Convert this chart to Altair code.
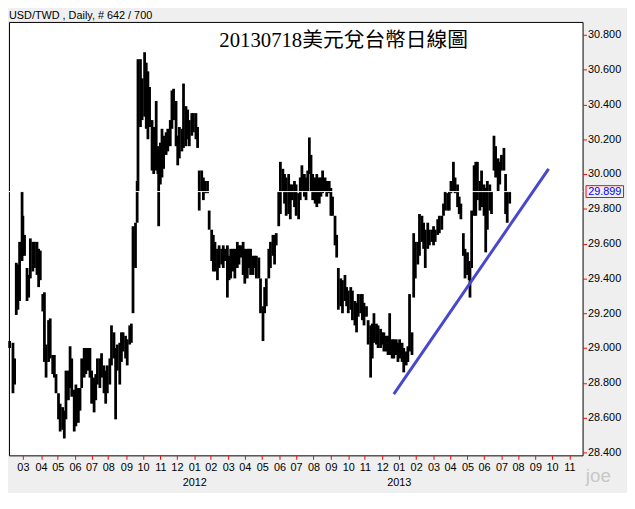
import json
import altair as alt
import pandas as pd

# ---- data (trading-day index, bar high, bar low) ----
day = [8, 12, 14, 16, 18, 20, 23, 24, 26, 29, 31, 33, 36, 38, 41, 43, 45, 48, 50, 52,
       55, 57, 60, 62, 64, 67, 69, 72, 74, 76, 79, 81, 83, 86, 88, 91, 93, 95, 98, 100,
       103, 105, 107, 110, 112, 114, 117, 119, 122, 124, 126, 129, 131, 134, 136, 138, 141, 143, 145, 148,
       150, 153, 155, 157, 160, 162, 163, 166, 168, 171, 173, 175, 177, 180, 182, 185, 187, 188, 190, 192,
       194, 197, 199, 202, 204, 206, 209, 211, 213, 216, 218, 221, 223, 225, 228, 230, 233, 235, 237, 240,
       242, 244, 247, 249, 252, 254, 256, 259, 261, 264, 266, 268, 271, 273, 275, 278, 280, 283, 285, 287,
       290, 292, 295, 297, 299, 302, 304, 306, 309, 311, 314, 316, 318, 321, 323, 326, 328, 330, 333, 335,
       338, 340, 342, 345, 347, 349, 352, 354, 357, 359, 361, 364, 366, 368, 370, 372, 374, 377, 379, 382,
       384, 386, 389, 391, 394, 396, 398, 401, 403, 405, 408, 410, 413, 415, 417, 420, 422, 425, 427, 429,
       432, 434, 436, 439, 441, 444, 446, 448, 451, 453, 456, 458, 460, 463, 465, 467, 470, 472, 475, 477,
       479, 482, 484, 487, 489, 491, 494, 496, 498, 501, 503, 506, 508, 510, 513, 515, 518, 520, 522, 525,
       527, 530, 532, 534, 537, 539, 541, 544, 546, 549, 551, 553, 556, 558, 561, 563, 564, 566, 569, 571,
       573, 576, 578, 581, 583, 585, 588, 590, 593, 595, 598, 600, 602, 605, 607, 609, 612]

high = [29.04, 29.03, 28.94, 29.49, 29.48, 29.61, 29.90, 29.76, 29.65, 29.46, 29.42, 29.63, 29.61, 29.61, 29.61, 29.57, 29.56, 29.31, 29.32, 29.02,
        29.16, 29.17, 28.96, 28.96, 28.85, 28.74, 28.68, 28.66, 28.64, 28.87, 28.87, 29.01, 28.94, 28.76, 28.79, 28.77, 28.77, 28.94, 29.00, 29.00,
        29.00, 29.00, 28.87, 28.83, 28.85, 28.94, 28.94, 28.97, 28.90, 28.87, 28.90, 28.94, 29.13, 29.09, 29.00, 29.02, 29.03, 29.09, 29.09, 29.07,
        29.05, 29.13, 29.14, 29.70, 29.72, 29.96, 30.66, 30.66, 30.55, 30.70, 30.64, 30.59, 30.50, 30.31, 30.27, 30.42, 30.16, 30.13, 30.18, 30.26,
        30.22, 30.24, 30.26, 30.31, 30.48, 30.49, 30.42, 30.22, 30.27, 30.26, 30.52, 30.39, 30.37, 30.31, 30.35, 30.35, 30.35, 30.27, 30.02, 30.02,
        29.98, 29.96, 29.96, 29.79, 29.68, 29.65, 29.61, 29.57, 29.59, 29.57, 29.59, 29.57, 29.59, 29.53, 29.57, 29.57, 29.57, 29.61, 29.59, 29.59,
        29.61, 29.57, 29.57, 29.57, 29.57, 29.53, 29.53, 29.53, 29.52, 29.40, 29.24, 29.35, 29.40, 29.57, 29.61, 29.65, 29.65, 29.66, 29.90, 30.07,
        30.03, 30.00, 29.98, 30.00, 29.94, 29.94, 29.96, 29.94, 29.89, 29.98, 30.05, 30.00, 29.98, 30.02, 30.21, 30.11, 30.00, 29.98, 30.00, 29.98,
        29.98, 30.02, 29.98, 29.96, 29.96, 29.92, 29.87, 29.76, 29.65, 29.46, 29.40, 29.39, 29.42, 29.35, 29.33, 29.35, 29.33, 29.27, 29.26, 29.31,
        29.31, 29.31, 29.26, 29.24, 29.16, 29.13, 29.14, 29.20, 29.14, 29.13, 29.11, 29.09, 29.09, 29.07, 29.07, 29.20, 29.05, 29.05, 29.05, 29.03,
        29.05, 29.03, 29.00, 28.98, 29.01, 29.31, 29.09, 29.66, 29.61, 29.61, 29.77, 29.76, 29.72, 29.68, 29.72, 29.68, 29.68, 29.70, 29.68, 29.74,
        29.76, 29.76, 29.83, 29.90, 29.89, 29.90, 29.96, 30.07, 29.98, 29.94, 29.87, 29.83, 29.66, 29.57, 29.55, 29.50, 29.46, 29.79, 30.05, 30.07,
        30.07, 29.96, 30.02, 29.94, 29.92, 29.96, 29.94, 29.90, 30.22, 30.16, 30.09, 30.07, 30.11, 30.15, 30.00, 29.90, 29.90]

low = [29.00, 28.74, 28.79, 29.19, 29.22, 29.27, 29.50, 29.53, 29.53, 29.27, 29.29, 29.40, 29.44, 29.46, 29.42, 29.35, 29.39, 29.21, 28.92, 28.83,
       28.92, 28.94, 28.85, 28.83, 28.74, 28.59, 28.52, 28.53, 28.48, 28.59, 28.70, 28.77, 28.72, 28.52, 28.55, 28.57, 28.64, 28.77, 28.83, 28.85,
       28.87, 28.83, 28.68, 28.63, 28.70, 28.79, 28.77, 28.83, 28.74, 28.68, 28.74, 28.79, 28.90, 28.94, 28.59, 28.87, 28.79, 28.92, 28.98, 28.94,
       28.90, 29.02, 29.03, 29.20, 29.46, 29.72, 29.90, 30.27, 30.31, 30.33, 30.26, 30.20, 30.27, 30.02, 30.00, 30.02, 30.00, 29.70, 29.94, 29.98,
       30.03, 30.11, 30.13, 30.16, 30.26, 30.31, 30.16, 30.05, 30.09, 30.13, 30.15, 30.16, 30.20, 30.16, 30.22, 30.24, 30.20, 30.15, 29.79, 29.90,
       29.85, 29.89, 29.89, 29.68, 29.50, 29.44, 29.44, 29.39, 29.46, 29.48, 29.46, 29.50, 29.29, 29.39, 29.40, 29.44, 29.40, 29.46, 29.48, 29.52,
       29.42, 29.37, 29.40, 29.46, 29.42, 29.42, 29.46, 29.40, 29.40, 29.20, 29.04, 29.20, 29.24, 29.40, 29.46, 29.53, 29.48, 29.59, 29.70, 29.77,
       29.90, 29.83, 29.76, 29.77, 29.74, 29.85, 29.81, 29.76, 29.74, 29.85, 29.90, 29.87, 29.85, 29.90, 30.00, 29.90, 29.85, 29.83, 29.81, 29.83,
       29.87, 29.89, 29.90, 29.87, 29.89, 29.76, 29.76, 29.59, 29.52, 29.22, 29.24, 29.20, 29.27, 29.24, 29.20, 29.22, 29.16, 29.13, 29.09, 29.18,
       29.20, 29.16, 29.13, 29.18, 29.02, 28.83, 28.94, 29.03, 29.02, 29.00, 29.00, 29.02, 28.98, 28.98, 28.96, 28.96, 28.94, 28.94, 28.96, 28.92,
       28.94, 28.92, 28.86, 28.90, 28.92, 28.98, 28.96, 29.29, 29.40, 29.48, 29.53, 29.61, 29.57, 29.46, 29.57, 29.59, 29.61, 29.59, 29.61, 29.65,
       29.66, 29.68, 29.76, 29.79, 29.79, 29.79, 29.89, 29.90, 29.89, 29.81, 29.77, 29.74, 29.53, 29.40, 29.42, 29.39, 29.29, 29.46, 29.76, 29.76,
       29.85, 29.79, 29.81, 29.76, 29.55, 29.68, 29.79, 29.77, 30.02, 29.98, 29.90, 29.94, 30.02, 30.02, 29.77, 29.72, 29.83]

month_ticks = [24, 46, 66, 87, 107, 127, 149, 169, 190, 210, 231, 251, 272, 292, 313, 334, 354,
               375, 396, 417, 437, 458, 478, 499, 520, 540, 561, 581, 602, 622, 643, 663, 684]
month_labels = ["03", "04", "05", "06", "07", "08", "09", "10", "11", "12",
                "01", "02", "03", "04", "05", "06", "07", "08", "09", "10", "11", "12",
                "01", "02", "03", "04", "05", "06", "07", "08", "09", "10", "11"]
year_labels = {10: "2012", 22: "2013"}
price_ticks = [28.4, 28.6, 28.8, 29.0, 29.2, 29.4, 29.6, 29.8, 30.0, 30.2, 30.4, 30.6, 30.8]

last_close = 29.899
trend_day = [472, 659]
trend_price = [28.735, 30.03]

header_text = "USD/TWD , Daily, # 642 / 700"
title_text = "20130718美元兌台幣日線圖"
mark_text = "joe"

# ---- layout ----
W, H = 581, 439
xs = alt.Scale(domain=[7.2, 700], nice=False, zero=False)
ys = alt.Scale(domain=[28.383, 30.874], nice=False, zero=False)

label_list = [[m, year_labels[i]] if i in year_labels else m for i, m in enumerate(month_labels)]
label_expr = f"{json.dumps(label_list)}[indexof({json.dumps(month_ticks)}, datum.value)]"

x_axis = alt.Axis(values=month_ticks, tickCount=60, labelExpr=label_expr,
                  title=None, grid=False, domain=False,
                  tickColor="#ff0000", tickSize=4, tickWidth=1,
                  labelFont="Liberation Sans", labelFontSize=11, labelColor="black",
                  labelPadding=2, labelLineHeight=16, labelOverlap=False, labelFlush=False,
                  labelBaseline="top")
y_axis = alt.Axis(orient="right", values=price_ticks, tickCount=30,
                  format=".3f", title=None, grid=False,
                  domain=False, tickColor="#ff0000", tickSize=4, tickWidth=1,
                  labelFont="Liberation Sans", labelFontSize=11, labelColor="black",
                  labelPadding=1, labelOverlap=False, labelFlush=False)

bars_df = pd.DataFrame({"day": day, "high": high, "low": low})
bars = alt.Chart(bars_df).mark_rule(color="black", strokeWidth=2.8).encode(
    x=alt.X("day:Q", scale=xs, axis=x_axis),
    y=alt.Y("low:Q", scale=ys, axis=y_axis),
    y2="high:Q",
)

close_df = pd.DataFrame({"p": [last_close], "t": [f"{last_close:.3f}"]})
close_line = alt.Chart(close_df).mark_rule(color="white", strokeWidth=1).encode(
    y=alt.Y("p:Q", scale=ys, title=None)
)

trend_df = pd.DataFrame({"day": trend_day, "price": trend_price})
trend = alt.Chart(trend_df).mark_line(color="#4848cc", strokeWidth=3).encode(
    x=alt.X("day:Q", scale=xs, title=None),
    y=alt.Y("price:Q", scale=ys, title=None),
)

box = alt.Chart(close_df).mark_point(
    shape="M-1,-0.3158H1V0.3158H-1Z", size=1444, filled=False,
    color="#ff0000", stroke="#ff0000", strokeWidth=1, opacity=1,
).encode(x=alt.value(603.5), y=alt.Y("p:Q", scale=ys, title=None))

box_text = alt.Chart(close_df).mark_text(
    color="#0000ff", font="Liberation Sans", fontSize=11, align="center", baseline="middle"
).encode(x=alt.value(603.5), y=alt.Y("p:Q", scale=ys, title=None), text="t:N")

header = alt.Chart(pd.DataFrame({"t": [header_text]})).mark_text(
    font="Liberation Sans", fontSize=11, color="black", align="left", baseline="middle"
).encode(x=alt.value(0), y=alt.value(-6), text="t:N")

title = alt.Chart(pd.DataFrame({"t": [title_text]})).mark_text(
    font="Liberation Serif, Noto Sans CJK TC", fontSize=21, color="black",
    align="center", baseline="middle"
).encode(x=alt.value(339), y=alt.value(19), text="t:N")

wm = alt.Chart(pd.DataFrame({"t": [mark_text]})).mark_text(
    font="Liberation Sans", fontSize=19, color="#c8c8c8", align="center", baseline="middle"
).encode(x=alt.value(597), y=alt.value(460), text="t:N")

chart = alt.layer(bars, close_line, trend, box, box_text, header, title, wm).properties(
    width=W, height=H,
    autosize=alt.AutoSizeParams(type="none"),
    padding={"left": 1, "top": 11, "right": 45, "bottom": 35},
).configure(background="#efefef").configure_view(stroke="black", strokeWidth=1, fill="white")

chart.save("out.html", embed_options={"renderer": "svg", "actions": False})
